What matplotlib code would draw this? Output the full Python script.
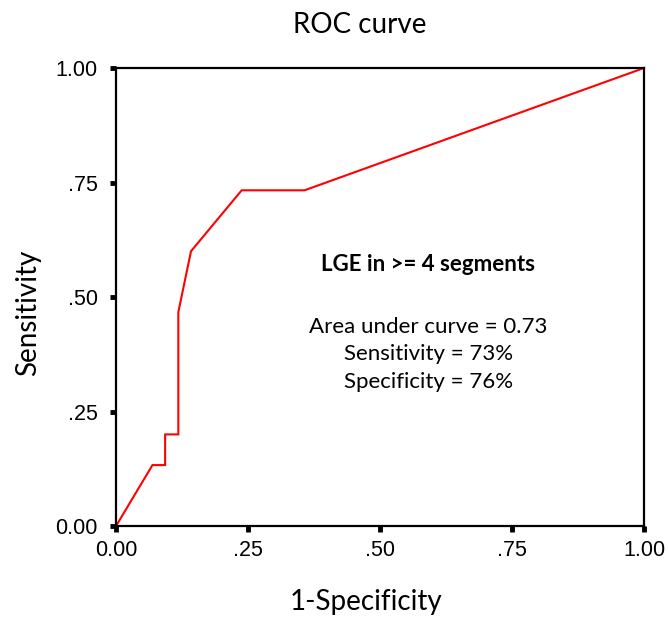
import matplotlib
matplotlib.use("Agg")
import matplotlib.pyplot as plt

# -------- DATA -------- #
fpr = [0.0, 0.069, 0.093, 0.093, 0.118, 0.118, 0.142, 0.238, 0.357, 1.0]
tpr = [0.0, 0.133, 0.133, 0.200, 0.200, 0.467, 0.600, 0.733, 0.733, 1.0]

tick_vals = [0.0, 0.25, 0.5, 0.75, 1.0]
x_tick_labels = ["0.00", ".25", ".50", ".75", "1.00"]
y_tick_labels = ["0.00", ".25", ".50", ".75", "1.00"]

note_title = "LGE in >= 4 segments"
note_lines = ["Area under curve = 0.73", "Sensitivity = 73%", "Specificity = 76%"]

label_font = ["Lato", "DejaVu Sans"]
tick_font = ["Liberation Sans", "DejaVu Sans"]

# -------- FIGURE -------- #
fig = plt.figure(figsize=(6.68, 6.2), dpi=100)
ax = fig.add_axes([0.1737, 0.1516, 0.7904, 0.7387])

ax.plot(fpr, tpr, color="#ff0000", lw=1.5, solid_joinstyle="miter")

ax.set_xlim(0, 1)
ax.set_ylim(0, 1)
for s in ax.spines.values():
    s.set_linewidth(1.6)
    s.set_color("black")

ax.set_xticks(tick_vals)
ax.set_yticks(tick_vals)
ax.set_xticklabels(x_tick_labels, family=tick_font, fontsize=15.5)
ax.set_yticklabels(y_tick_labels, family=tick_font, fontsize=15.5)
ax.tick_params(axis="x", direction="out", length=4, width=3.5, pad=6)
ax.tick_params(axis="y", direction="out", length=4, width=3.5, pad=9)

# annotation block
ax.text(0.591, 0.572, note_title, transform=ax.transAxes, ha="center",
        va="center", family=label_font, fontsize=16, fontweight="bold")
for i, line in enumerate(note_lines):
    ax.text(0.591, 0.4345 - i * 0.060, line, transform=ax.transAxes,
            ha="center", va="center", family=label_font, fontsize=16)

# title and axis labels placed like the original
fig.text(360 / 668, 1 - 25 / 620, "ROC curve", ha="center", va="center",
         family=label_font, fontsize=20)
fig.text(366 / 668, 1 - 602 / 620, "1-Specificity", ha="center", va="center",
         family=label_font, fontsize=20)
fig.text(28 / 668, 1 - 313 / 620, "Sensitivity", ha="center", va="center",
         rotation=90, family=label_font, fontsize=20)

fig.savefig("out.png", dpi=100)
